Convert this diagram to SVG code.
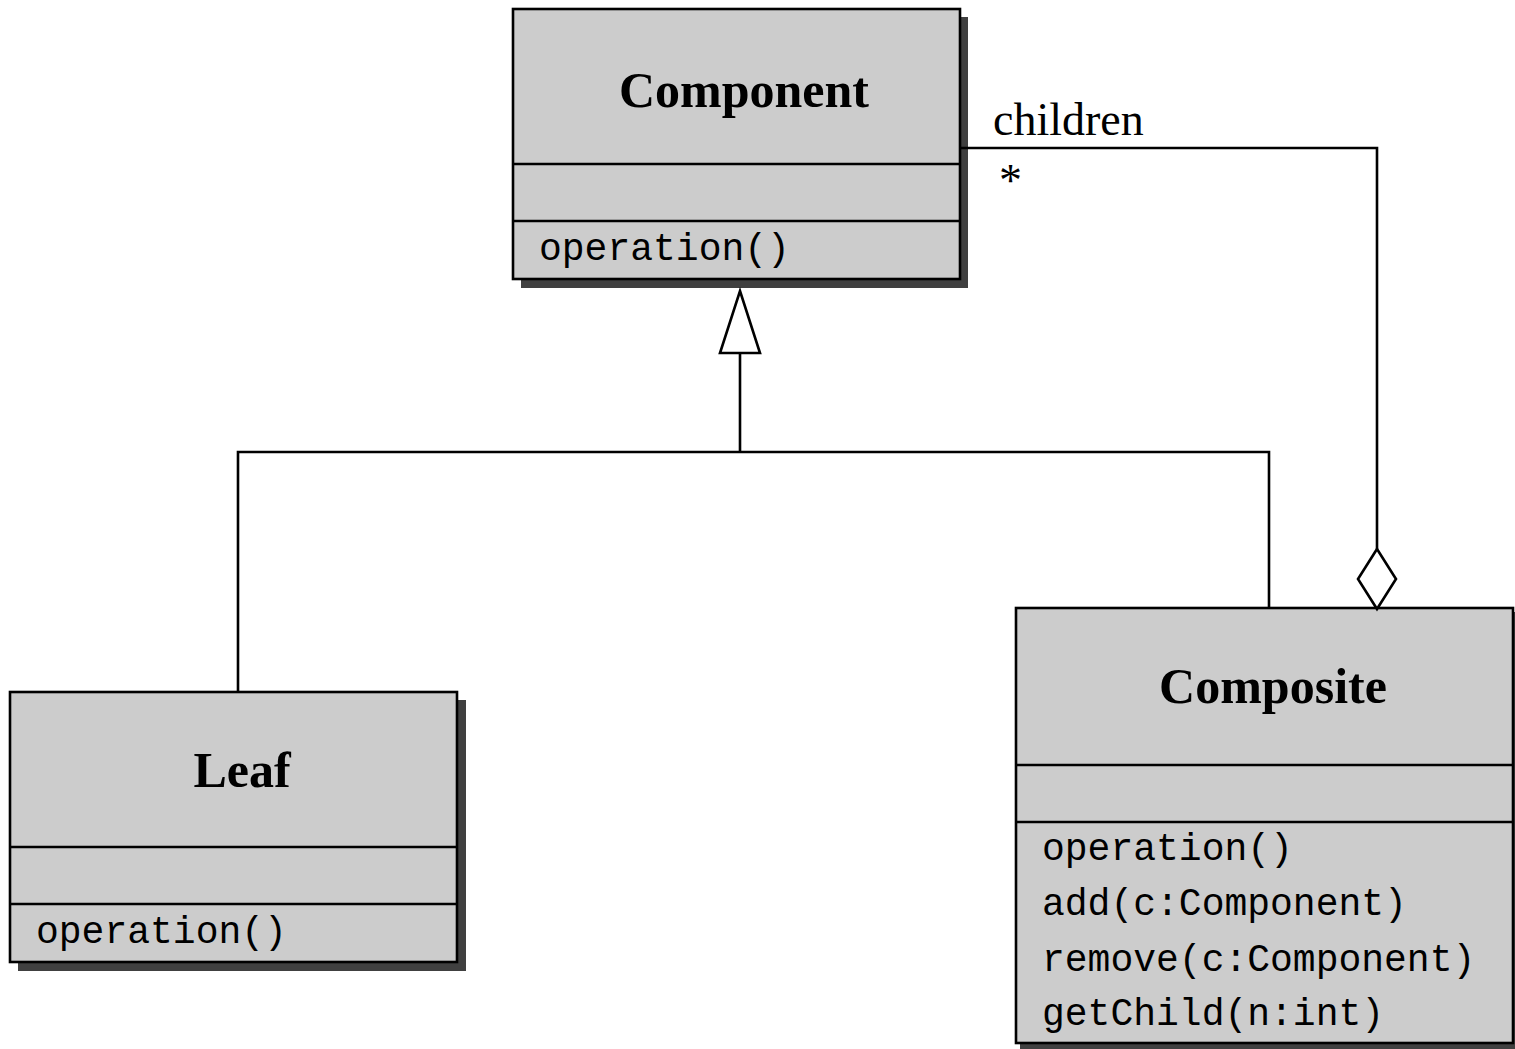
<svg xmlns="http://www.w3.org/2000/svg" width="1515" height="1049" viewBox="0 0 1515 1049">
<style>
.shadow{fill:#404040}
.box{fill:#cccccc;stroke:#000;stroke-width:2.6}
.sep{stroke:#000;stroke-width:2.6}
.title{font-family:"Liberation Serif",serif;font-weight:bold;font-size:50px;text-anchor:middle;fill:#000}
.mono{font-family:"Liberation Mono",monospace;font-size:38px;fill:#000}
.lbl{font-family:"Liberation Serif",serif;font-size:46px;fill:#000}
.conn{fill:none;stroke:#000;stroke-width:2.6}
.head{fill:#fff;stroke:#000;stroke-width:2.6}
</style>
<rect width="1515" height="1049" fill="#fff"/>
<g id="component">
<rect class="shadow" x="521" y="17" width="447" height="271"/>
<rect class="box" x="513" y="9" width="447" height="270"/>
<line class="sep" x1="513" y1="164" x2="960" y2="164"/>
<line class="sep" x1="513" y1="221" x2="960" y2="221"/>
<text class="title" x="744" y="107">Component</text>
<text class="mono" x="539" y="260">operation()</text>
</g>
<g id="leaf">
<rect class="shadow" x="18" y="700" width="448" height="271"/>
<rect class="box" x="10" y="692" width="447" height="270"/>
<line class="sep" x1="10" y1="847" x2="457" y2="847"/>
<line class="sep" x1="10" y1="904" x2="457" y2="904"/>
<text class="title" x="242" y="787">Leaf</text>
<text class="mono" x="36" y="943">operation()</text>
</g>
<g id="composite">
<rect class="shadow" x="1020" y="612" width="497" height="439"/>
<rect class="box" x="1016" y="608" width="497" height="435"/>
<line class="sep" x1="1016" y1="765" x2="1513" y2="765"/>
<line class="sep" x1="1016" y1="822" x2="1513" y2="822"/>
<text class="title" x="1273" y="703">Composite</text>
<text class="mono" x="1042" y="860">operation()</text>
<text class="mono" x="1042" y="915">add(c:Component)</text>
<text class="mono" x="1042" y="971">remove(c:Component)</text>
<text class="mono" x="1042" y="1025">getChild(n:int)</text>
</g>
<g id="connectors">
<path class="conn" d="M740 353 V452 M238 692 V452 H1269 V608"/>
<polygon class="head" points="740,291 760,353 720,353"/>
<path class="conn" d="M960 148 H1377 V549"/>
<polygon class="head" points="1377,549 1396,579 1377,609 1358,579"/>
<text class="lbl" x="993" y="135">children</text>
<text class="lbl" x="999" y="196">*</text>
</g>
</svg>
